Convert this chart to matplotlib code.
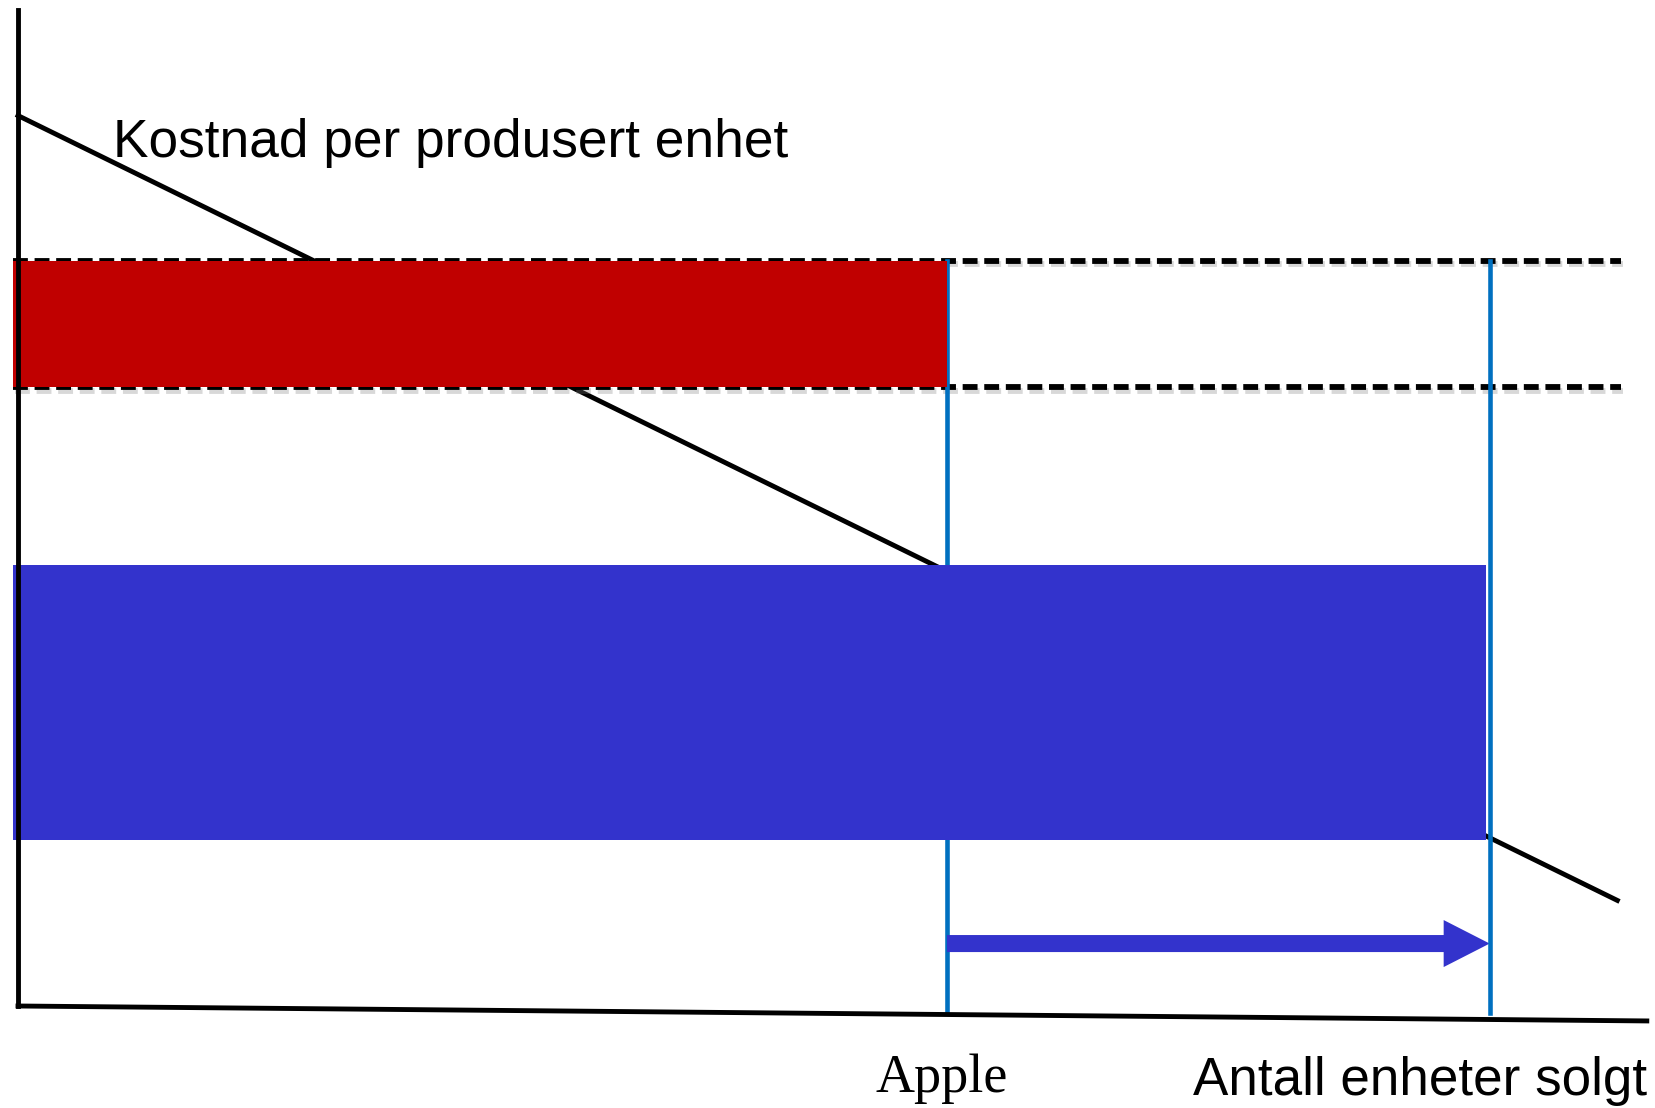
import matplotlib
matplotlib.use("Agg")
import matplotlib.pyplot as plt
import matplotlib.patheffects as pe

# ---- data (conceptual units: x = units sold, y = cost/price) ----
cost_line_x = [0.0, 97.7]
cost_line_y = [89.4, 10.6]
apple_units = 56.75
market_units = 89.9
price_band = [62.1, 74.8]          # red band (price range)
cost_band = [16.7, 44.3]           # blue band (cost difference)
bar_left = -0.3
dash_right = 97.9
axis_x_end = [99.5, -1.5]          # end point of (slightly sloped) x axis
axis_y_top = 100.0
arrow_y = 6.27

labels = {
    "cost": "Kostnad per produsert enhet",
    "apple": "Apple",
    "xaxis": "Antall enheter solgt",
}

RED = "#C00000"
BLUE = "#3333CC"
LBLUE = "#0070C0"

W, H = 1655, 1108
fig = plt.figure(figsize=(W / 100, H / 100), dpi=100)
ax = fig.add_axes([0, 0, 1, 1])
px_x = 16.37
px_y = 9.96
ax.set_xlim(-18 / px_x, (W - 18) / px_x)
ax.set_ylim(-(H - 1006) / px_y, 1006 / px_y)
ax.axis("off")

# dashed price lines with shadow (behind bars)
shadow = [pe.SimpleLineShadow(offset=(1.5, -2.5), alpha=0.3, shadow_color="gray"), pe.Normal()]
for yv in price_band:
    ax.plot([bar_left, dash_right], [yv, yv], color="black", lw=4.2,
            dashes=(2.55, 1.15), zorder=2, path_effects=shadow, solid_capstyle="butt",
            dash_capstyle="butt")

# axes lines
ax.plot([0, 0], [0, axis_y_top], color="black", lw=3.5, zorder=5, solid_capstyle="projecting")
ax.plot([0, axis_x_end[0]], [0, axis_x_end[1]], color="black", lw=3.5, zorder=5,
        solid_capstyle="projecting")

# cost per unit line
ax.plot(cost_line_x, cost_line_y, color="black", lw=3.5, zorder=1)

# vertical blue lines
ax.plot([apple_units, apple_units], [-0.7, price_band[1]], color=LBLUE, lw=3.3, zorder=3)
ax.plot([market_units, market_units], [-0.7, price_band[1]], color=LBLUE, lw=3.3, zorder=6)

# bars
ax.fill_between([bar_left, apple_units], price_band[0], price_band[1], color=RED, lw=0, zorder=4)
ax.fill_between([bar_left, market_units - 0.2], cost_band[0], cost_band[1], color=BLUE, lw=0, zorder=4)

# arrow
ax.arrow(apple_units, arrow_y, market_units - apple_units, 0, width=1.71,
         head_width=4.72, head_length=2.81, length_includes_head=True,
         color=BLUE, lw=0, zorder=5)

# texts
ax.text(5.8, 85.2, labels["cost"], fontsize=38.3, family="Liberation Sans",
        ha="left", va="baseline", zorder=7)
ax.text((876 - 18) / px_x, -(1092 - 1006) / px_y, labels["apple"], fontsize=39,
        family="Liberation Serif", ha="left", va="baseline")
ax.text((1193 - 18) / px_x, -(1095 - 1006) / px_y, labels["xaxis"], fontsize=38.2,
        family="Liberation Sans", ha="left", va="baseline")

fig.savefig("out.png", dpi=100, facecolor="white")
